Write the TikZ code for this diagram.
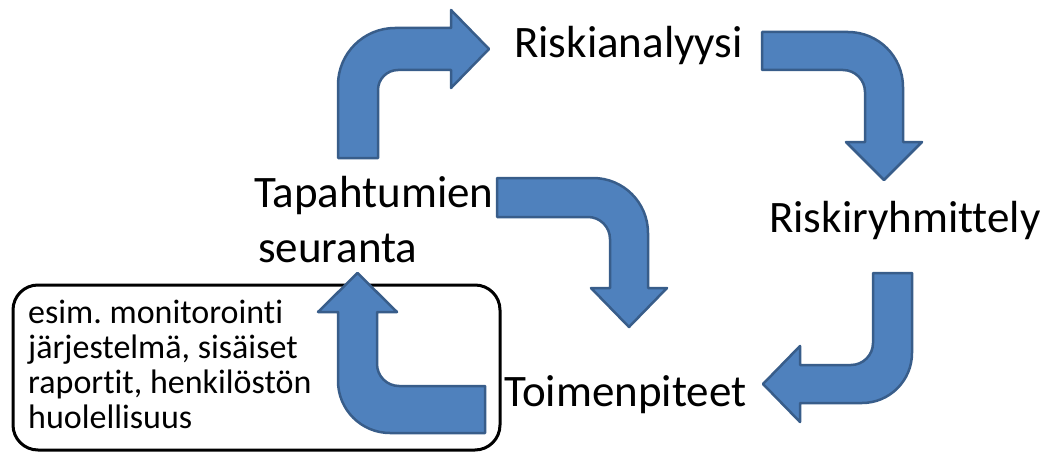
\documentclass[tikz,border=0pt]{standalone}
\usepackage{fontspec}
\setmainfont{Carlito}[Ligatures={NoCommon,NoRare,NoContextual}]
\frenchspacing
\begin{document}
\begin{tikzpicture}[x=1pt,y=-1pt,
  blockarrow/.style={fill={rgb,255:red,79;green,129;blue,189}, draw={rgb,255:red,56;green,93;blue,138}, line width=2.5pt, line join=round},
  label/.style={inner sep=0pt, anchor=base west, font=\fontsize{45}{55}\selectfont, align=left},
  notebox/.style={draw=black, line width=3pt, rounded corners=25pt, minimum width=487pt, minimum height=165pt, inner sep=0pt},
  notetext/.style={inner sep=0pt, anchor=base west, align=left, font=\fontsize{34}{35}\selectfont}]
\useasboundingbox (0,0) rectangle (1053,452);
% note box
\node[notebox] (note) at (256.5,367.5) {};
\node[notetext] (notetxt) at (28,428) {esim. monitorointi\\järjestelmä, sisäiset\\raportit, henkilöstön\\huolellisuus};
% labels
\node[label] (ana) at (514,58) {Riskianalyysi};
\node[label] (tap) at (254,262) {Tapahtumien\\\hspace*{4pt}seuranta};
\node[label] (ryh) at (769,232) {Riskiryhmittely};
\node[label] (toi) at (504,406) {Toimenpiteet};
% arrow 1: up then right
\draw[blockarrow] (338,158) -- (338,85) .. controls (338,53.5) and (363.5,28) .. (395,28) -- (451,28) -- (451,10) -- (489,49) -- (451,88) -- (451,70) -- (398,70) .. controls (387,70) and (378,79) .. (378,90) -- (378,158) -- cycle;
% arrow 2: right then down
\draw[blockarrow] (762,32) -- (848,32) .. controls (878.4,32) and (903,56.6) .. (903,87) -- (903,142) -- (922,142) -- (884,180) -- (846,142) -- (865,142) -- (865,92) .. controls (865,79.9) and (855.1,70) .. (843,70) -- (762,70) -- cycle;
% arrow 3: right then down
\draw[blockarrow] (497,178) -- (593,178) .. controls (623.4,178) and (648,202.6) .. (648,233) -- (648,288) -- (667,288) -- (629,327) -- (591,288) -- (610,288) -- (610,239) .. controls (610,226.9) and (600.1,217) .. (588,217) -- (497,217) -- cycle;
% arrow 4: down then left
\draw[blockarrow] (873,273) -- (912,273) -- (912,353) .. controls (912,380.6) and (889.6,403) .. (862,403) -- (800,403) -- (800,422) -- (763,384) -- (800,346) -- (800,365) -- (851,365) .. controls (863.1,365) and (873,355.1) .. (873,343) -- cycle;
% arrow 5: left then up
\draw[blockarrow] (485,386) -- (485,433) -- (390,433) .. controls (361.3,433) and (338,409.7) .. (338,381) -- (338,312) -- (318,312) -- (357.5,273) -- (397,312) -- (377,312) -- (377,364) .. controls (377,376.1) and (386.9,386) .. (399,386) -- cycle;
\end{tikzpicture}
\end{document}
